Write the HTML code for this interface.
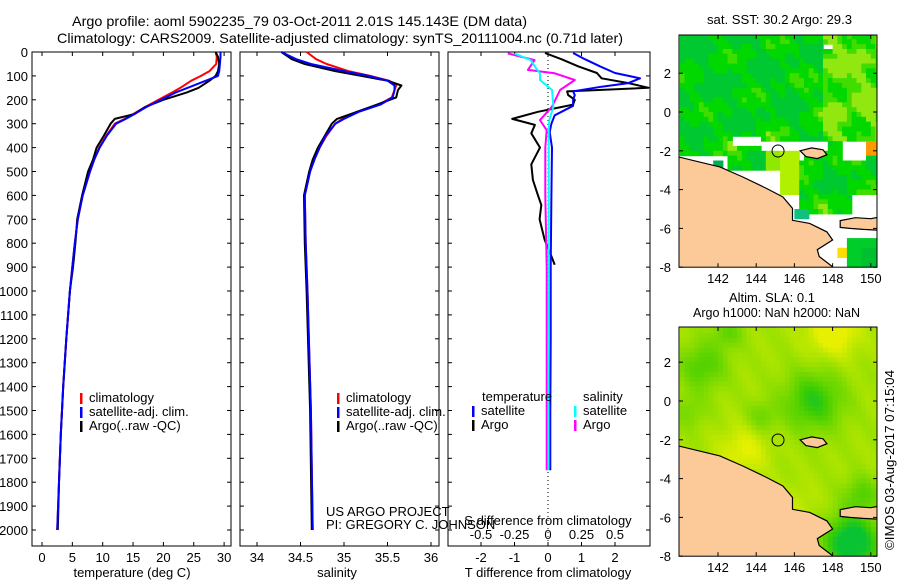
<!DOCTYPE html>
<html><head><meta charset="utf-8">
<style>
body{margin:0;background:#fff;}
svg{display:block;font-family:"Liberation Sans",sans-serif;}
text{font-size:13px;fill:#000;}
.big{font-size:14px;}
</style></head><body>
<svg id="fig" width="900" height="580" viewBox="0 0 900 580">
<text class="big" x="72" y="26" textLength="455" lengthAdjust="spacingAndGlyphs">Argo profile: aoml 5902235_79 03-Oct-2011 2.01S 145.143E (DM data)</text>
<text class="big" x="57" y="43" textLength="566" lengthAdjust="spacingAndGlyphs">Climatology: CARS2009. Satellite-adjusted climatology: synTS_20111004.nc (0.71d later)</text>
<g id="p1"></g>
<g id="p2"></g>
<g id="p3"></g>
<g id="m1"></g>
<g id="m2"></g>
<text x="707" y="24" textLength="145" lengthAdjust="spacingAndGlyphs">sat. SST: 30.2 Argo: 29.3</text>
<text x="772" y="302" text-anchor="middle">Altim. SLA: 0.1</text>
<text x="693" y="317" textLength="167" lengthAdjust="spacingAndGlyphs">Argo h1000: NaN h2000: NaN</text>
<text transform="translate(894,550) rotate(-90)" textLength="180" lengthAdjust="spacingAndGlyphs">©IMOS 03-Aug-2017 07:15:04</text>
<text x="326" y="516">US ARGO PROJECT</text>
<text x="326" y="529">PI: GREGORY C. JOHNSON</text>
</svg>
<script>
// ---- data ----
const tDepth=[0,20,50,80,100,120,150,170,200,230,260,280,300,350,400,450,500,600,700,800,900,1000,1200,1400,1600,1800,2000];
const tClim=[28.6,28.8,28.7,27.6,26.2,24.6,22.8,21.4,19.2,17.0,15.0,13.6,12.0,10.6,9.4,8.6,7.9,6.7,5.9,5.4,5.0,4.6,4.0,3.5,3.1,2.8,2.5];
const tSat=[29.4,29.4,29.3,29.2,29.0,27.0,24.0,22.0,19.6,17.2,15.2,13.8,12.2,10.7,9.5,8.6,7.9,6.7,5.9,5.4,5.0,4.6,4.0,3.5,3.1,2.8,2.5];
const tArgo=[28.6,29.0,29.2,29.0,28.6,27.6,25.8,23.8,20.0,17.0,15.2,12.0,11.3,10.2,9.0,8.4,7.6,6.6,5.8,5.5,5.1,4.6,4.0,3.5,3.1,2.8,2.6];
const sDepth=[0,30,50,80,100,120,140,160,190,220,250,280,300,350,400,450,500,600,800,1000,1500,2000];
const sClim=[34.57,34.68,34.80,35.05,35.30,35.52,35.60,35.58,35.55,35.40,35.15,34.98,34.90,34.80,34.72,34.66,34.61,34.55,34.56,34.58,34.62,34.64];
const sSat=[34.28,34.45,34.62,35.0,35.28,35.50,35.58,35.58,35.56,35.42,35.17,35.0,34.90,34.79,34.72,34.66,34.61,34.55,34.56,34.58,34.62,34.64];
const sArgo=[34.28,34.40,34.55,34.90,35.20,35.50,35.66,35.62,35.60,35.38,35.15,34.92,34.86,34.78,34.70,34.64,34.60,34.54,34.55,34.57,34.61,34.63];
const dDepth=[4,30,60,88,110,130,150,165,180,200,220,250,280,305,340,400,470,535,600,640,700,785,855,890];
const dArgoT=[-0.09,0.4,0.9,1.46,1.6,2.4,3.0,0.57,0.6,0.8,0.75,-0.3,-1.07,-0.39,-0.5,-0.24,-0.5,-0.45,-0.3,-0.2,-0.25,-0.1,0.1,0.2];
const sdDepth=[4,30,60,88,110,130,145,165,180,200,225,265,300,335,400,600,900,1200,1500,1750];
const dSatT=[0.75,1.1,1.55,2.0,2.75,2.4,1.6,0.75,0.8,0.75,0.75,0.2,0.1,0.05,0.12,0.1,0.08,0.08,0.07,0.07];
const xdDepth=[6,34,75,89,117,159,229,285,327,400,600,900,1200,1500,1750];
const dArgoS=[-0.3,-0.1,-0.15,0.05,0.2,0.09,0.03,-0.06,-0.01,-0.02,-0.02,-0.01,-0.01,-0.01,-0.01];
const dSatS=[-0.25,-0.13,-0.08,-0.06,-0.06,0.03,0.04,0.01,0.005,0.005,0.005,0.005,0.003,0.003,0.003];
const depthTicks=[0,100,200,300,400,500,600,700,800,900,1000,1100,1200,1300,1400,1500,1600,1700,1800,1900,2000];
const tTicks=[0,5,10,15,20,25,30];
const salTicks=[34,34.5,35,35.5,36];
const salTickLabels=["34","34.5","35","35.5","36"];
const dTTicks=[-2,-1,0,1,2];
const dSTicks=[-0.5,-0.25,0,0.25,0.5];
const dSTickLabels=["-0.5","-0.25","0","0.25","0.5"];
const latTicks=[2,0,-2,-4,-6,-8];
const lonTicks=[142,144,146,148,150];
const landLon=[139.9,142.1,143.3,144.56,145.4,145.9,145.9,146.8,147.7,148.0,147.2,147.3,148.0,148.0,139.9];
const landLat=[-2.31,-2.83,-3.35,-3.95,-4.38,-4.97,-5.58,-5.74,-6.18,-6.6,-7.1,-7.45,-7.98,-8.3,-8.3];
const nbLon=[148.4,149.2,150.0,150.5,150.5,149.6,148.9,148.4];
const nbLat=[-5.6,-5.45,-5.5,-5.4,-6.1,-6.05,-6.0,-5.95];
const isLon=[146.3,146.9,147.5,147.7,147.2,146.6];
const isLat=[-2.0,-1.85,-1.95,-2.2,-2.4,-2.3];
const floatLon=145.143, floatLat=-2.01;

const NS="http://www.w3.org/2000/svg";
function mk(parent,tag,attrs){const e=document.createElementNS(NS,tag);for(const k in attrs)e.setAttribute(k,attrs[k]);parent.appendChild(e);return e;}
const Y0=52, DY=0.239;
const yD=d=>Y0+d*DY;
function frame(g,x0,x1,y0,y1){const r=mk(g,'rect',{x:x0,y:y0,width:x1-x0,height:y1-y0,fill:'none',stroke:'#000','stroke-width':1});}
function line(g,xs,ys,color,w,name){const pts=xs.map((x,i)=>x.toFixed(1)+','+ys[i].toFixed(1)).join(' ');const p=mk(g,'polyline',{points:pts,fill:'none',stroke:color,'stroke-width':w,'stroke-linejoin':'round'});return p;}
function txt(g,x,y,s,anchor,name){const t=mk(g,'text',{x:x,y:y,'text-anchor':anchor||'start'});t.textContent=s;return t;}
function tick(g,x1,y1,x2,y2){const l=mk(g,'line',{x1:x1,y1:y1,x2:x2,y2:y2,stroke:'#000'});}
function depthAxis(g,x0,x1,labels){depthTicks.forEach(d=>{const y=yD(d);tick(g,x0,y,x0+4,y);tick(g,x1,y,x1-4,y);if(labels)txt(g,x0-4,y+5,String(d),'end','depth-tick-label');});}
function legend(g,x,y,items){items.forEach((it,i)=>{const yy=y+i*14;const r=mk(g,'rect',{x:x,y:yy-9,width:2.5,height:11,fill:it[1]});txt(g,x+9,yy,it[0],'start','legend-entry');});}

// Panel 1 temperature
(function(){const g=document.getElementById('p1');const x0=32,x1=231,y0=52,y1=546;const xT=t=>42+t*6.07;
frame(g,x0,x1,y0,y1);depthAxis(g,x0,x1,true);
tTicks.forEach(t=>{tick(g,xT(t),y1,xT(t),y1-4);tick(g,xT(t),y0,xT(t),y0+4);txt(g,xT(t),562,String(t),'middle','temp-tick-label');});
txt(g,132,577,'temperature (deg C)','middle','temp-axis-title');
line(g,tClim.map(xT),tDepth.map(yD),'#f00',2,'temp-climatology');
line(g,tArgo.map(xT),tDepth.map(yD),'#000',2,'temp-argo');
line(g,tSat.map(xT),tDepth.map(yD),'#00f',2,'temp-satellite');
legend(g,80,402,[['climatology','#f00'],['satellite-adj. clim.','#00f'],['Argo(..raw -QC)','#000']]);})();

// Panel 2 salinity
(function(){const g=document.getElementById('p2');const x0=240,x1=439,y0=52,y1=546;const xS=s=>257+(s-34)*87;
frame(g,x0,x1,y0,y1);depthAxis(g,x0,x1,false);
salTicks.forEach((s,i)=>{tick(g,xS(s),y1,xS(s),y1-4);tick(g,xS(s),y0,xS(s),y0+4);txt(g,xS(s),562,salTickLabels[i],'middle','sal-tick-label');});
txt(g,337,577,'salinity','middle','sal-axis-title');
line(g,sClim.map(xS),sDepth.map(yD),'#f00',2,'sal-climatology');
line(g,sArgo.map(xS),sDepth.map(yD),'#000',2,'sal-argo');
line(g,sSat.map(xS),sDepth.map(yD),'#00f',2,'sal-satellite');
legend(g,337,402,[['climatology','#f00'],['satellite-adj. clim.','#00f'],['Argo(..raw -QC)','#000']]);})();

// Panel 3 differences
(function(){const g=document.getElementById('p3');const x0=448,x1=650,y0=52,y1=546;const xT=t=>Math.min(x1,548+t*33.5);const xS=s=>548+s*4*33.5;
frame(g,x0,x1,y0,y1);depthAxis(g,x0,x1,false);
const z=mk(g,'line',{x1:548,y1:y0,x2:548,y2:y1,stroke:'#000','stroke-dasharray':'1,3'});
dTTicks.forEach(t=>{tick(g,xT(t),y1,xT(t),y1-4);tick(g,xT(t),y0,xT(t),y0+4);txt(g,xT(t),562,String(t),'middle','tdiff-tick-label');});
dSTicks.forEach((s,i)=>{txt(g,xS(s),539,dSTickLabels[i],'middle','sdiff-tick-label');});
txt(g,548,525,'S difference from climatology','middle','sdiff-axis-title');
txt(g,548,577,'T difference from climatology','middle','tdiff-axis-title');
line(g,dArgoT.map(xT),dDepth.map(yD),'#000',2,'tdiff-argo');
line(g,dArgoS.map(xS),xdDepth.map(yD),'#f0f',2,'sdiff-argo');
line(g,dSatT.map(xT),sdDepth.map(yD),'#00f',2,'tdiff-satellite');
line(g,dSatS.map(xS),xdDepth.map(yD),'#0ff',2,'sdiff-satellite');
txt(g,482,401,'temperature','start','legend-temperature-heading');
txt(g,583,401,'salinity','start','legend-salinity-heading');
legend(g,472,415,[['satellite','#00f'],['Argo','#000']]);
legend(g,574,415,[['satellite','#0ff'],['Argo','#f0f']]);})();

// map texture helpers
function inR(lo,la,r){return lo>=r[0]&&lo<r[1]&&la<=r[2]&&la>r[3];}
const sstWhite=[[142.7,144.3,-1.3,-1.8],[144.3,147.7,-1.6,-1.95],[140,142.5,-2.15,-9],[142.5,144.5,-2.9,-9],[144.5,145.3,-3.0,-9],[145.3,146.3,-4.3,-9],[146.3,150.5,-5.3,-9],[149.0,150.5,-4.3,-9],[146.3,146.6,-2.0,-2.5],[148.5,149.8,-1.5,-2.5],[147.6,148.0,3.6,3.3]];
function sstColor(lo,la){
 if(inR(lo,la,[149.7,150.5,-1.5,-2.2]))return '#ff9900';
 if(inR(lo,la,[141.7,142.3,-2.5,-3.0]))return '#00b050';
 if(inR(lo,la,[146.1,146.8,-5.1,-5.6]))return '#10c080';
 if(inR(lo,la,[148.7,150.5,-6.6,-9]))return (lo>149.6&&la<-7)?'#00c030':'#00cc2a';
 if(inR(lo,la,[148.2,148.7,-7.0,-7.6]))return '#ffdd00';
 for(const r of sstWhite)if(inR(lo,la,r))return null;
 if(inR(lo,la,[144.6,146.2,-1.8,-4.3]))return (lo>145.2)?'#b0f000':'#90e800';
 const n=Math.sin(lo*2.1+la*1.3)*0.4+Math.sin(lo*0.9-la*2.7)*0.4+Math.sin(lo*5.3+la*4.1)*0.3;
 let v=n+(lo>147.5&&la>-1.5?0.9:0)+(lo<146.5&&la>-1?-0.2:0);
 if(v>0.9)return '#90e810';
 if(v>0.5)return '#40dd00';
 if(v>-0.2)return '#00d800';
 return '#00c830';
}
const slaBlobs=[[141.2,1.8,1.2,0.4],[147,0,1.5,0.55],[149,-7.3,1.4,0.9],[148,3.6,1.3,-0.45],[143.3,-2.6,1.3,-0.3],[144.3,-0.8,0.8,0.25],[149.5,-4.8,0.9,0.35],[146,-5.5,1.2,-0.15],[142.5,3.5,0.8,0.3],[140.5,-0.5,0.9,0.2]];
function slaColor(lo,la){let v=0.3+Math.sin(lo*3.3+la*2.1)*0.04;slaBlobs.forEach(b=>{const d2=((lo-b[0])**2+(la-b[1])**2)/(b[2]*b[2]);v+=b[3]*Math.exp(-d2);});
 v=Math.max(0,Math.min(1,v));const r=Math.round(230-v*220),gg=Math.round(240-v*45),bb=v>0.75?Math.round((v-0.75)*200):0;return 'rgb('+r+','+gg+','+bb+')';}

function drawMap(id,yTop,yZero,kind){const g=document.getElementById(id);const x0=679,x1=877;const y1=yZero+8*19.4;
const xL=l=>718+(l-142)*19.1, yL=a=>yZero-a*19.4;
const cp=mk(g,'clipPath',{id:id+'c'});mk(cp,'rect',{x:x0,y:yTop,width:x1-x0,height:y1-yTop});
const cg=mk(g,'g',{'clip-path':'url(#'+id+'c)'});
const step=0.25;
for(let lo=140;lo<150.5;lo+=step){for(let la=4;la>-8.3;la-=step){
 const cl=lo+step/2, ca=la-step/2;
 const col=kind==='sst'?sstColor(cl,ca):slaColor(cl,ca);
 if(col){mk(cg,'rect',{x:xL(lo).toFixed(1),y:yL(la).toFixed(1),width:(step*19.1+0.6).toFixed(1),height:(step*19.4+0.6).toFixed(1),fill:col});}
}}
[[landLon,landLat],[nbLon,nbLat],[isLon,isLat]].forEach(p=>{const poly=mk(cg,'polygon',{points:p[0].map((l,i)=>xL(l).toFixed(1)+','+yL(p[1][i]).toFixed(1)).join(' '),fill:'#fcca98',stroke:'#000','stroke-width':1.2});});
const fc=mk(g,'circle',{cx:xL(floatLon),cy:yL(floatLat),r:6,fill:'none',stroke:'#000'});
frame(g,x0,x1,yTop,y1);
latTicks.forEach(a=>{tick(g,x0,yL(a),x0+4,yL(a));tick(g,x1,yL(a),x1-4,yL(a));txt(g,x0-8,yL(a)+5,String(a),'end','lat-tick-label');});
lonTicks.forEach(l=>{tick(g,xL(l),yTop,xL(l),yTop+4);tick(g,xL(l),y1,xL(l),y1-4);txt(g,xL(l),y1+16,String(l),'middle','lon-tick-label');});}
drawMap('m1',35,112,'sst');
drawMap('m2',327,401,'sla');
</script>
</body></html>
